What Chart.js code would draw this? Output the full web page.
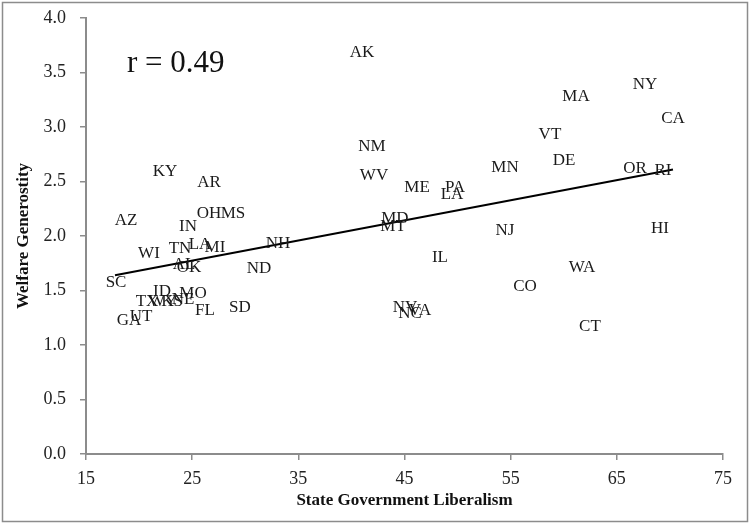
<!DOCTYPE html>
<html>
<head>
<meta charset="utf-8">
<script src="https://cdn.jsdelivr.net/npm/chart.js@4"></script>
<style>
html,body{margin:0;padding:0;background:#fff;}
#wrap{width:750px;height:524px;position:relative;}
</style>
</head>
<body>
<div id="wrap"><canvas id="c" width="750" height="524"></canvas></div>
<script>
const states = ["AK","NY","MA","CA","VT","NM","MN","DE","OR","RI","WV","ME","PA","LA","MD","MT","NJ","HI","IL","WA","CO","NV","NC","VA","CT",
  "KY","AR","OH","MS","AZ","IN","WI","TN","LA","MI","NH","AL","OK","ND","SC","ID","MO","TX","WY","KS","NE","FL","SD","GA","UT"];
const liberalism = [41.0,67.65,61.15,70.29,58.7,41.94,54.47,60.02,66.71,69.35,42.13,46.18,49.76,49.47,44.1,43.92,54.47,69.06,48.34,61.72,56.35,45.05,45.52,46.46,62.47,
  22.44,26.59,26.59,28.85,18.77,24.61,20.93,23.85,25.74,27.15,33.08,24.23,24.7,31.29,17.83,22.16,25.08,20.75,22.25,23.1,24.14,26.21,29.5,19.05,20.18];
const generosity = [3.69,3.40,3.29,3.09,2.94,2.83,2.64,2.70,2.63,2.61,2.56,2.45,2.45,2.39,2.17,2.10,2.06,2.08,1.81,1.72,1.55,1.35,1.30,1.33,1.18,
  2.60,2.50,2.22,2.22,2.15,2.10,1.85,1.89,1.93,1.90,1.94,1.75,1.72,1.71,1.58,1.50,1.48,1.41,1.41,1.41,1.43,1.33,1.35,1.23,1.27];
const trendX = [17.73, 70.29];
const trendY = [1.64, 2.61];
const xTicks = [15,25,35,45,55,65,75];
const yTicks = [0,0.5,1,1.5,2,2.5,3,3.5,4];
const rText = "r = 0.49";

const AXIS = "#8c8c8c";
const SERIF = "'Liberation Serif','Times New Roman',serif";

const labelPlugin = {
  id: 'stateLabels',
  afterDatasetsDraw(chart) {
    const ctx = chart.ctx;
    const meta = chart.getDatasetMeta(0);
    ctx.save();
    ctx.font = "17px " + SERIF;
    ctx.fillStyle = "#1a1a1a";
    ctx.textAlign = "center";
    ctx.textBaseline = "alphabetic";
    meta.data.forEach((pt, i) => {
      ctx.fillText(states[i], pt.x, pt.y + 5.5);
    });
    ctx.font = "31px " + SERIF;
    ctx.textAlign = "left";
    ctx.fillStyle = "#111";
    ctx.fillText(rText, 127, 72);
    ctx.restore();
  }
};
const framePlugin = {
  id: 'frame',
  afterDraw(chart) {
    const ctx = chart.ctx;
    ctx.save();
    ctx.strokeStyle = "#8c8c8c";
    ctx.lineWidth = 1.5;
    ctx.strokeRect(2.5, 2.5, 745, 519);
    ctx.restore();
  }
};

new Chart(document.getElementById('c'), {
  type: 'scatter',
  data: {
    datasets: [
      {
        data: liberalism.map((x, i) => ({x: x, y: generosity[i]})),
        pointRadius: 0,
        pointHoverRadius: 0,
        showLine: false
      },
      {
        type: 'line',
        data: trendX.map((x, i) => ({x: x, y: trendY[i]})),
        borderColor: "#000",
        borderWidth: 2,
        pointRadius: 0,
        fill: false
      }
    ]
  },
  options: {
    responsive: false,
    animation: false,
    events: [],
    layout: { padding: { top: 18, right: 27, left: 0, bottom: 0 } },
    plugins: { legend: { display: false }, tooltip: { enabled: false } },
    scales: {
      x: {
        type: 'linear',
        min: 15, max: 75,
        afterBuildTicks(scale) { scale.ticks = xTicks.map(v => ({value: v})); },
        afterFit(scale) { scale.height = 70; scale.paddingLeft = 0; scale.paddingRight = 0; },
        grid: { display: true, drawOnChartArea: false, drawTicks: true, tickLength: 6, color: AXIS, lineWidth: 1.5 },
        border: { display: true, color: AXIS, width: 2 },
        ticks: { color: "#222", font: { family: SERIF, size: 18 }, padding: 8 },
        title: { display: true, text: "State Government Liberalism", color: "#111",
          font: { family: SERIF, size: 17, weight: 'bold' }, padding: { top: 6, bottom: 13 } }
      },
      y: {
        type: 'linear',
        min: 0, max: 4,
        afterBuildTicks(scale) { scale.ticks = yTicks.map(v => ({value: v})); },
        afterFit(scale) { scale.width = 86; scale.paddingTop = 0; scale.paddingBottom = 0; },
        grid: { display: true, drawOnChartArea: false, drawTicks: true, tickLength: 6, color: AXIS, lineWidth: 1.5 },
        border: { display: true, color: AXIS, width: 2 },
        ticks: { color: "#222", font: { family: SERIF, size: 18 }, padding: 14,
          callback: (v) => Number(v).toFixed(1) },
        title: { display: true, text: "Welfare Generostity", color: "#111",
          font: { family: SERIF, size: 17, weight: 'bold' }, padding: { top: 13, bottom: 0 } }
      }
    }
  },
  plugins: [labelPlugin, framePlugin]
});
</script>
</body>
</html>
